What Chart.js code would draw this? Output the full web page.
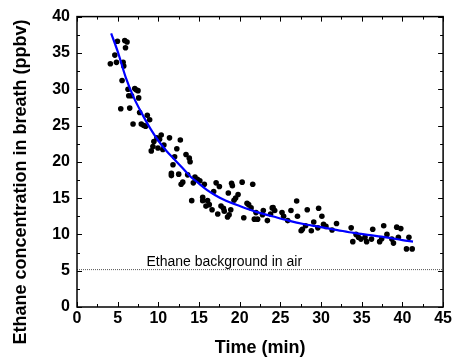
<!DOCTYPE html>
<html>
<head>
<meta charset="utf-8">
<script src="https://cdn.jsdelivr.net/npm/chart.js@4.4.1/dist/chart.umd.min.js"></script>
<style>
    html, body { margin: 0; padding: 0; background: #fff; }
    #chart { display: block; }
</style>
</head>
<body>
<canvas id="chart" width="454" height="362"></canvas>
<script>
// Breath ethane measurements (time in min, ppbv)
const timeMin = [
    4.1, 4.65, 4.85, 4.97, 5.38, 5.54, 5.67, 5.75, 5.87, 5.96, 6.15, 6.27, 6.36, 6.48, 6.7, 6.89,
    7.1, 7.3, 7.5, 7.58, 7.7, 7.9, 8.2, 8.44, 8.64, 8.93, 9.13, 9.33, 9.45, 9.82, 9.95, 10.15,
    10.35, 10.55, 10.68, 11.37, 11.8, 12.0, 12.27, 12.5, 11.6, 11.6, 12.7, 13.0, 12.8, 13.4,
    13.8, 13.9, 13.6, 14.3, 14.5, 14.8, 15.1, 15.65, 14.1, 15.45, 15.45, 16.05, 16.26, 15.85,
    16.6, 16.8, 17.1, 17.5, 17.7, 18.0, 18.1, 17.3, 18.5, 18.7, 18.6, 19.0, 19.1, 19.3, 19.5,
    19.8, 20.3, 20.5, 20.9, 21.1, 21.4, 21.6, 21.8, 22.0, 22.2, 22.8, 22.9, 23.4, 23.8, 24.1,
    24.3, 25.2, 25.4, 25.9, 26.3, 27.0, 27.1, 27.55, 27.7, 28.1, 28.3, 28.8, 29.1, 29.6, 29.7,
    30.1, 30.3, 30.6, 31.35, 31.9, 33.7, 33.9, 34.3, 34.6, 34.9, 35.4, 35.6, 36.2, 36.35, 37.2,
    37.45, 37.7, 38.1, 38.7, 38.9, 39.3, 39.5, 39.8, 40.5, 40.8, 41.2, 18.9, 24.0
];
const ethanePpbv = [
    33.5, 34.7, 33.7, 36.6, 27.3, 31.2, 33.7, 33.2, 36.7, 35.7, 36.5, 30.0, 29.1, 27.4, 29.1, 25.2,
    30.1, 29.9, 29.8, 28.8, 26.8, 25.2, 25.0, 24.9, 26.4, 25.8, 21.5, 22.1, 22.8, 23.3, 21.9, 23.1,
    23.7, 21.7, 22.3, 23.3, 19.6, 20.7, 21.8, 18.3, 18.4, 18.1, 23.0, 17.2, 16.9, 21.0,
    20.5, 20.0, 18.2, 17.1, 17.9, 17.6, 17.4, 16.9, 14.65, 15.1, 14.65, 14.65, 14.1, 13.9,
    13.4, 15.9, 17.1, 16.6, 13.9, 13.6, 13.2, 12.8, 12.4, 12.7, 15.7, 17.05, 16.7, 14.7, 15.0,
    15.5, 17.2, 12.3, 14.3, 14.1, 13.65, 16.9, 12.1, 13.0, 12.1, 12.7, 13.3, 11.9, 12.8, 13.7,
    13.3, 13.0, 12.5, 11.9, 13.3, 14.6, 12.5, 10.5, 10.7, 11.2, 13.4, 10.5, 11.7, 10.9, 13.6,
    12.5, 11.4, 11.1, 10.6, 11.5, 10.9, 9.0, 10.0, 9.6, 9.35, 9.6, 9.0, 9.35, 10.7, 9.0,
    9.4, 11.2, 10.0, 9.35, 8.8, 11.0, 9.6, 10.8, 8.0, 9.6, 8.0, 13.4, 13.65
];

// fitted decay curve
const fitTime = [4.2, 5, 6, 7, 8, 9, 10, 11, 12, 13, 14, 15, 16, 17, 18, 20, 22, 24, 26, 28, 30, 32, 34, 36, 38, 40, 41.3];
const fitPpbv = [37.7, 35.2, 31.6, 28.8, 26.6, 24.6, 22.9, 21.5, 20.3, 19.1, 17.9, 17.0, 16.1, 15.4, 14.8, 13.9, 13.1, 12.5, 11.9, 11.4, 11.0, 10.6, 10.2, 9.9, 9.6, 9.2, 9.0];

const backgroundLevel = 5.15;
const backgroundLabel = 'Ethane background in air';

const xTicks = [0, 5, 10, 15, 20, 25, 30, 35, 40, 45];
const yTicks = [0, 5, 10, 15, 20, 25, 30, 35, 40];

const FONT = "'Liberation Sans', Arial, sans-serif";

// frame, inward ticks, y title and the background label
const framePlugin = {
    id: 'frame',
    afterDraw(chart) {
        const { ctx, chartArea: a, scales: { x, y } } = chart;
        ctx.save();
        ctx.strokeStyle = '#000';
        ctx.lineWidth = 1;

        const minorX = xTicks.slice(1).map((v, i) => (v + xTicks[i]) / 2);
        const minorY = yTicks.slice(1).map((v, i) => (v + yTicks[i]) / 2);

        ctx.beginPath();
        const xt = (v, len) => {
            const px = Math.round(x.getPixelForValue(v)) + 0.5;
            ctx.moveTo(px, a.bottom); ctx.lineTo(px, a.bottom - len);
            ctx.moveTo(px, a.top); ctx.lineTo(px, a.top + len);
        };
        const yt = (v, len) => {
            const py = Math.round(y.getPixelForValue(v)) + 0.5;
            ctx.moveTo(a.left, py); ctx.lineTo(a.left + len, py);
            ctx.moveTo(a.right, py); ctx.lineTo(a.right - len, py);
        };
        xTicks.forEach(v => xt(v, 5));
        minorX.forEach(v => xt(v, 3));
        yTicks.forEach(v => yt(v, 5));
        minorY.forEach(v => yt(v, 3));
        ctx.stroke();

        ctx.lineWidth = 1.5;
        ctx.strokeRect(a.left, a.top, a.right - a.left, a.bottom - a.top);

        // background label
        ctx.fillStyle = '#000';
        ctx.font = `14px ${FONT}`;
        ctx.textAlign = 'center';
        ctx.textBaseline = 'alphabetic';
        ctx.fillText(backgroundLabel, x.getPixelForValue(18.1), y.getPixelForValue(5.6));

        // y axis title
        ctx.font = `bold 18px ${FONT}`;
        ctx.translate(21, 182);
        ctx.rotate(-Math.PI / 2);
        ctx.textBaseline = 'middle';
        ctx.fillText('Ethane concentration in breath (ppbv)', 0, 0);
        ctx.restore();
    }
};

const scatterData = timeMin.map((t, i) => ({ x: t, y: ethanePpbv[i] }));
const fitData = fitTime.map((t, i) => ({ x: t, y: fitPpbv[i] }));

new Chart(document.getElementById('chart'), {
    type: 'scatter',
    data: {
        datasets: [
            {
                label: 'Fit',
                data: fitData,
                showLine: true,
                borderColor: '#0000ff',
                borderWidth: 2.2,
                pointRadius: 0,
                tension: 0.4,
                cubicInterpolationMode: 'monotone',
                order: 0
            },
            {
                label: 'Breath',
                data: scatterData,
                pointRadius: 2.8,
                pointBackgroundColor: '#000',
                pointBorderWidth: 0,
                order: 1
            },
            {
                label: 'Background',
                data: [{ x: 0, y: backgroundLevel }, { x: 45, y: backgroundLevel }],
                showLine: true,
                borderColor: '#555',
                borderWidth: 1,
                borderDash: [1, 1],
                pointRadius: 0,
                order: 2
            }
        ]
    },
    options: {
        responsive: false,
        animation: false,
        devicePixelRatio: 1,
        layout: { padding: { top: 13, right: 9, left: 0, bottom: 0 } },
        plugins: {
            legend: { display: false },
            tooltip: { enabled: false }
        },
        scales: {
            x: {
                type: 'linear',
                min: 0,
                max: 45,
                afterFit: s => { s.height = 55; },
                afterBuildTicks: s => { s.ticks = xTicks.map(v => ({ value: v })); },
                ticks: {
                    autoSkip: false,
                    maxRotation: 0,
                    padding: 2,
                    color: '#000',
                    font: { family: FONT, size: 16, weight: 'bold' }
                },
                grid: { display: false, drawTicks: false },
                border: { display: false },
                title: {
                    display: true,
                    text: 'Time (min)',
                    color: '#000',
                    font: { family: FONT, size: 18, weight: 'bold' },
                    padding: { top: 0, bottom: 3 }
                }
            },
            y: {
                type: 'linear',
                min: 0,
                max: 40,
                afterFit: s => { s.width = 77; },
                afterBuildTicks: s => { s.ticks = yTicks.map(v => ({ value: v })); },
                ticks: {
                    autoSkip: false,
                    padding: 7,
                    color: '#000',
                    font: { family: FONT, size: 16, weight: 'bold' }
                },
                grid: { display: false, drawTicks: false },
                border: { display: false }
            }
        }
    },
    plugins: [framePlugin]
});
</script>
</body>
</html>
